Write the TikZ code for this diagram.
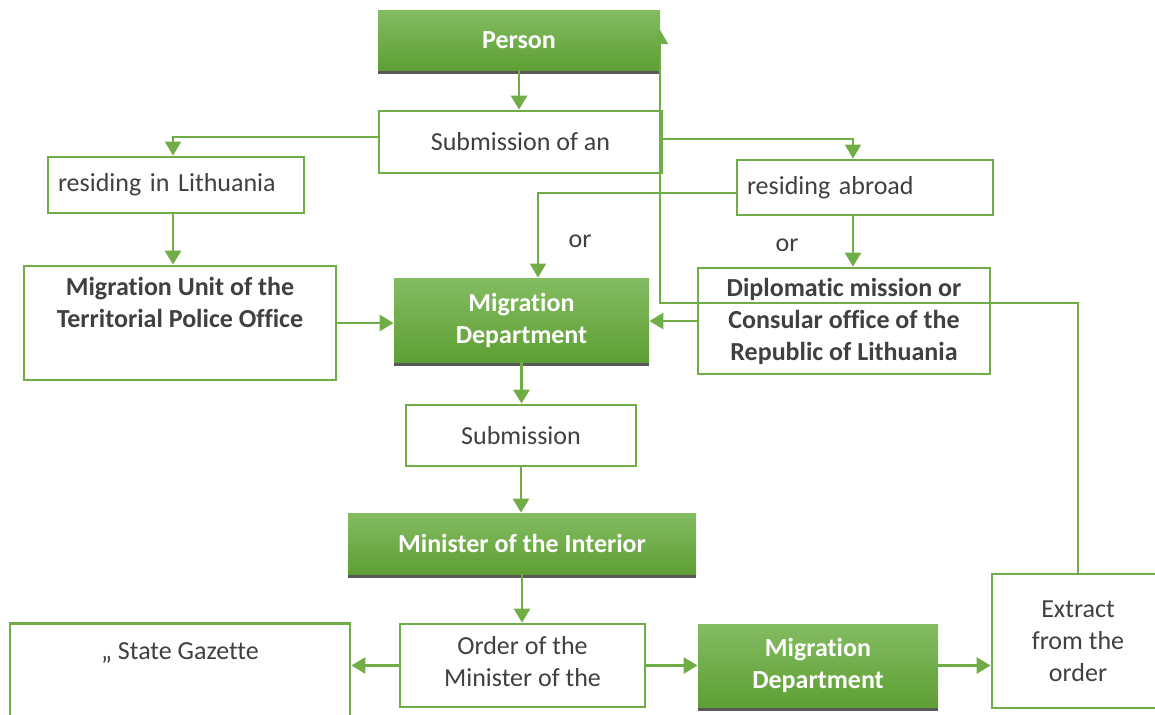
\documentclass[tikz,border=0pt]{standalone}
\usepackage{fontspec}
\setmainfont{Carlito}[Ligatures={NoCommon,NoContextual},RawFeature={-calt;-clig;-dlig}]
\usetikzlibrary{arrows.meta,calc,shadows}
\definecolor{OfficeGreen}{HTML}{70AD47}
\definecolor{GreenTop}{HTML}{84BC62}
\definecolor{GreenBottom}{HTML}{5E9F34}
\definecolor{BarGray}{HTML}{595959}
\definecolor{TextGray}{HTML}{404040}
\tikzset{
  whitebox/.style={
    draw=OfficeGreen,fill=white,line width=1.4pt,
    font=\fontsize{13}{16}\selectfont,text=TextGray,
    align=center,inner sep=2pt
  },
  boldbox/.style={whitebox,font=\fontsize{13}{16}\selectfont\bfseries},
  greenbox/.style={
    top color=GreenTop,bottom color=GreenBottom,draw=none,
    general shadow={fill=BarGray,shadow yshift=-2pt},
    font=\fontsize{13}{16}\selectfont\bfseries,text=white,
    align=center,inner sep=2pt
  },
  flow/.style={draw=OfficeGreen,line width=1.4pt,-{Triangle[length=7pt,width=8pt]}},
  thinflow/.style={flow,line width=0.9pt},
  ortext/.style={font=\fontsize{13}{16}\selectfont,text=TextGray},
}
\begin{document}
\begin{tikzpicture}[x=0.5pt,y=-0.5pt]
  \useasboundingbox (0,0) rectangle (1155,714);
  \node[greenbox,minimum width=141pt,minimum height=30pt] (person) at (519,40) {Person};
  \node[whitebox,minimum width=141.5pt,minimum height=31pt] (subAn) at (520.5,142) {Submission of an};
  \node[whitebox,text width=118pt,inner xsep=5pt,minimum height=28pt,align=left] (resLT) at (176,185) {residing in Lithuania};
  \node[whitebox,text width=118pt,inner xsep=5pt,minimum height=27.5pt,align=left] (resAB) at (865,187.5) {residing abroad};
  \node[boldbox,minimum width=156pt,minimum height=57pt] (unit) at (180,323) {Migration Unit of the\\Territorial Police Office\\\strut};
  \node[greenbox,minimum width=127.5pt,minimum height=42pt] (mdA) at (521.5,320) {Migration\\Department};
  \node[boldbox,minimum width=146pt,minimum height=53pt] (dipl) at (844,321) {Diplomatic mission or\\Consular office of the\\Republic of Lithuania};
  \node[ortext] (orA) at (580,241) {or};
  \node[ortext] (orB) at (787,245) {or};
  \node[whitebox,minimum width=115pt,minimum height=30.5pt] (subm) at (521,435.5) {Submission};
  \node[greenbox,minimum width=174pt,minimum height=30.5pt] (minister) at (522,543.5) {Minister of the Interior};
  \node[whitebox,minimum width=122.5pt,minimum height=41.5pt] (order) at (522.5,665.5) {};
  \begin{scope}
    \clip ($(order.south west)+(2,-2)$) rectangle ($(order.north east)+(-2,2)$);
    \node[ortext,align=center] (orderText) at (522.5,682) {Order of the\\Minister of the\\[4pt]Interior};
  \end{scope}
  \node[whitebox,anchor=north,minimum width=170pt,text height=16pt,text depth=45pt] (gazette) at (180,622) {„ State Gazette};
  \node[greenbox,minimum width=120pt,minimum height=41.5pt] (mdB) at (818,665.5) {Migration\\Department};
  \node[whitebox,minimum width=86pt,minimum height=67pt] (extract) at (1078,641) {Extract\\from the\\order};
  % helper points for the off-centre arrows
  \coordinate (litX) at ($(resLT.south)+(-3,0)$);
  \coordinate (abroadX) at ($(resAB.south)+(-12,0)$);
  \coordinate (backTurn) at (660,303);
  \coordinate (backTop) at (660,30);
  \draw[flow] (person.south) -- (person.south |- subAn.north);
  \draw[thinflow] ($(subAn.west)+(0,-5)$) -| (litX |- resLT.north);
  \draw[thinflow] ($(subAn.east)+(0,-3)$) -| (abroadX |- resAB.north);
  \draw[thinflow] ($(resAB.west)+(0,5.5)$) -| ($(mdA.north)+(16.5,0)$);
  \draw[flow] (litX) -- (litX |- unit.north);
  \draw[flow] (abroadX) -- (abroadX |- dipl.north);
  \draw[flow] (unit.east) -- (unit.east -| mdA.west);
  \draw[flow] (dipl.west) -- (dipl.west -| mdA.east);
  \draw[flow] (mdA.south) -- (mdA.south |- subm.north);
  \draw[flow] (subm.south) -- (subm.south |- minister.north);
  \draw[flow] (minister.south) -- (minister.south |- order.north);
  \draw[flow] (order.west) -- (order.west -| gazette.east);
  \draw[flow] (order.east) -- (order.east -| mdB.west);
  \draw[flow] (mdB.east) -- (mdB.east -| extract.west);
  \draw[thinflow] (extract.north) |- (backTurn) -- (backTop);
\end{tikzpicture}
\end{document}
